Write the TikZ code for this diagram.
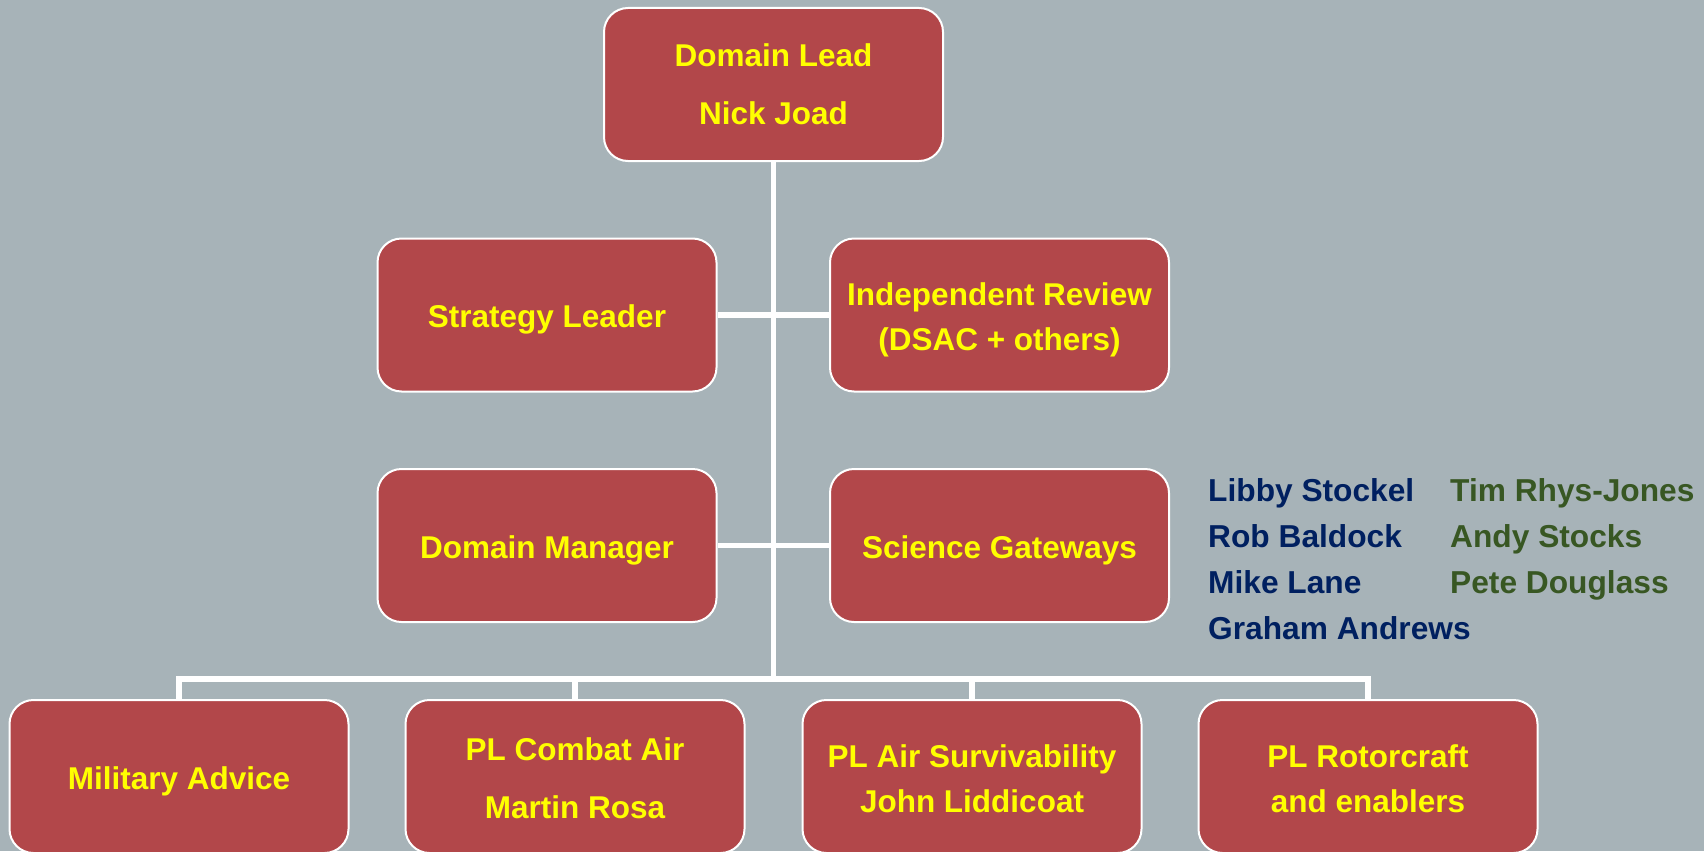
\documentclass[tikz,border=0pt]{standalone}
\usepackage{fontspec}
\setmainfont{Liberation Sans}
\definecolor{bgcol}{HTML}{A7B3B8}
\definecolor{boxred}{HTML}{B2474A}
\definecolor{boxtext}{HTML}{FFFF00}
\definecolor{nameblue}{HTML}{002060}
\definecolor{namegreen}{HTML}{385723}
\begin{document}
\begin{tikzpicture}[x=1pt,y=-1pt,
  unit/.style={draw=white, line width=2pt, fill=boxred, rounded corners=24pt,
    minimum width=339pt, minimum height=153pt, inner sep=0pt},
  boxlabel/.style={inner sep=0pt, align=center, text=boxtext,
    font=\bfseries\fontsize{31.5}{45}\selectfont},
  widelabel/.style={boxlabel, font=\bfseries\fontsize{31.5}{58}\selectfont},
  link/.style={draw=white, line width=5.5pt},
  person/.style={anchor=base west, inner sep=0pt,
    font=\bfseries\fontsize{31.7}{38}\selectfont}]
% background and page size
\fill[bgcol] (0,0) rectangle (1704,851);
\useasboundingbox (0,0) rectangle (1704,851);

% boxes
\node[unit, label={[widelabel]center:{Domain Lead\\Nick Joad}}] (lead) at (773.5,84.5) {};
\node[unit, label={[boxlabel, yshift=-4.5pt]center:Strategy Leader}] (strat) at (547,315) {};
\node[unit, label={[boxlabel, yshift=-4.5pt]center:{Independent Review\\(DSAC + others)}}] (review) at (999.5,315) {};
\node[unit, label={[boxlabel, yshift=-4.5pt]center:Domain Manager}] (mgr) at (547,545.5) {};
\node[unit, label={[boxlabel, yshift=-4.5pt]center:Science Gateways}] (gate) at (999.5,545.5) {};
\node[unit, label={[boxlabel, yshift=-5pt]center:Military Advice}] (mil) at (179,776.5) {};
\node[unit, label={[widelabel, yshift=-2pt]center:{PL Combat Air\\Martin Rosa}}] (combat) at (575,776.5) {};
\node[unit, label={[boxlabel, yshift=-2pt]center:{PL Air Survivability\\John Liddicoat}}] (surv) at (972,776.5) {};
\node[unit, label={[boxlabel, yshift=-2pt]center:{PL Rotorcraft\\and enablers}}] (rotor) at (1368,776.5) {};

% connectors
\coordinate (bus) at (773.5,679);
\draw[link] (lead.south) -- (bus);
\draw[link] (strat.east) -- (review.west);
\draw[link] (mgr.east) -- (gate.west);
\draw[link] (mil.north) -- (mil.north |- bus) -- (rotor.north |- bus) -- (rotor.north);
\draw[link] (combat.north |- bus) -- (combat.north);
\draw[link] (surv.north |- bus) -- (surv.north);

% team members
\node[person, text=nameblue] (p1) at (1208,501) {Libby Stockel};
\node[person, text=nameblue] (p2) at (1208,547) {Rob Baldock};
\node[person, text=nameblue] (p3) at (1208,593) {Mike Lane};
\node[person, text=nameblue] (p4) at (1208,639) {Graham Andrews};
\node[person, text=namegreen] (p5) at (1450,501) {Tim Rhys-Jones};
\node[person, text=namegreen] (p6) at (1450,547) {Andy Stocks};
\node[person, text=namegreen] (p7) at (1450,593) {Pete Douglass};
\end{tikzpicture}
\end{document}
